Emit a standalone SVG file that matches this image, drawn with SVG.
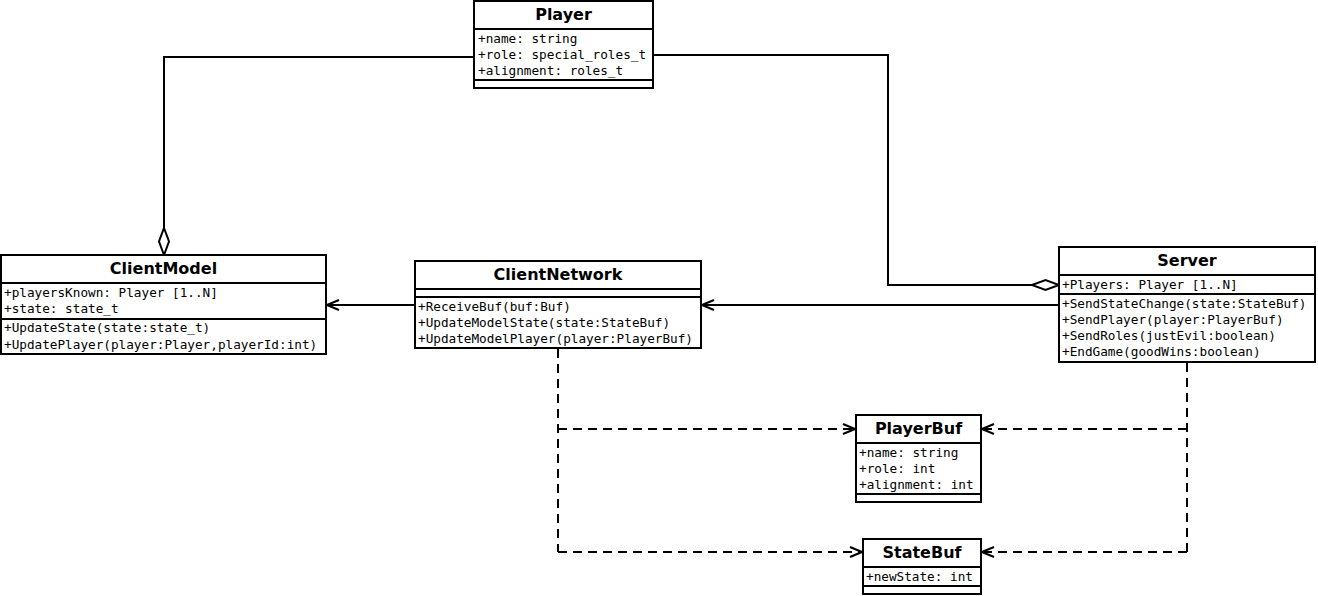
<svg xmlns="http://www.w3.org/2000/svg" width="1318" height="596" viewBox="0 0 1318 596">
<style>
.box{fill:#fff;stroke:#000;stroke-width:2}
.ln{stroke:#000;stroke-width:2;fill:none}
.t{font-family:"DejaVu Sans","Liberation Sans",sans-serif;font-weight:bold;font-size:16px;text-anchor:middle}
.m{font-family:"DejaVu Sans Mono","Liberation Mono",monospace;font-size:12.7px}
.c{stroke:#000;stroke-width:2;fill:none}
.d{stroke-dasharray:9 6}
</style>
<defs>
<marker id="open" markerWidth="14" markerHeight="12" refX="13" refY="6" orient="auto" markerUnits="userSpaceOnUse">
<path d="M1,1 L13,6 L1,11" fill="none" stroke="#000" stroke-width="2"/>
</marker>
</defs>
<rect width="1318" height="596" fill="#fff"/>

<g id="connectors">
<path class="c" d="M474,57 H164 V228"/>
<path d="M164,228 L169,241.5 L164,255 L159,241.5 Z" fill="#fff" stroke="#000" stroke-width="2"/>
<path class="c" d="M653,55 H888 V285 H1032"/>
<path d="M1032,285 L1045.5,280 L1059,285 L1045.5,290 Z" fill="#fff" stroke="#000" stroke-width="2"/>
<path class="c" d="M1059,305 H702" marker-end="url(#open)"/>
<path class="c" d="M415,305 H327" marker-end="url(#open)"/>
<path class="c d" d="M558,349 V552"/>
<path class="c d" d="M558,429 H855" marker-end="url(#open)"/>
<path class="c d" d="M558,552 H862" marker-end="url(#open)"/>
<path class="c d" d="M1187,363 V552"/>
<path class="c d" d="M1187,429 H982" marker-end="url(#open)"/>
<path class="c d" d="M1187,552 H982" marker-end="url(#open)"/>
</g>

<g id="Player">
<rect class="box" x="474" y="1" width="179" height="87"/>
<line class="ln" x1="474" y1="29" x2="653" y2="29"/>
<line class="ln" x1="474" y1="80" x2="653" y2="80"/>
<text class="t" x="563.5" y="20">Player</text>
<text class="m" x="478" y="43">+name: string</text>
<text class="m" x="478" y="59">+role: special_roles_t</text>
<text class="m" x="478" y="75">+alignment: roles_t</text>
</g>

<g id="ClientModel">
<rect class="box" x="1" y="255" width="325" height="99"/>
<line class="ln" x1="1" y1="283" x2="326" y2="283"/>
<line class="ln" x1="1" y1="319" x2="326" y2="319"/>
<text class="t" x="163.5" y="274">ClientModel</text>
<text class="m" x="4" y="297">+playersKnown: Player [1..N]</text>
<text class="m" x="4" y="313">+state: state_t</text>
<text class="m" x="4" y="332">+UpdateState(state:state_t)</text>
<text class="m" x="4" y="349">+UpdatePlayer(player:Player,playerId:int)</text>
</g>

<g id="ClientNetwork">
<rect class="box" x="415" y="261" width="286" height="87"/>
<line class="ln" x1="415" y1="289" x2="701" y2="289"/>
<line class="ln" x1="415" y1="297" x2="701" y2="297"/>
<text class="t" x="558" y="280">ClientNetwork</text>
<text class="m" x="418" y="311">+ReceiveBuf(buf:Buf)</text>
<text class="m" x="418" y="327">+UpdateModelState(state:StateBuf)</text>
<text class="m" x="418" y="343">+UpdateModelPlayer(player:PlayerBuf)</text>
</g>

<g id="Server">
<rect class="box" x="1059" y="247" width="256" height="115"/>
<line class="ln" x1="1059" y1="275" x2="1315" y2="275"/>
<line class="ln" x1="1059" y1="294" x2="1315" y2="294"/>
<text class="t" x="1187" y="266">Server</text>
<text class="m" x="1062" y="289">+Players: Player [1..N]</text>
<text class="m" x="1062" y="308">+SendStateChange(state:StateBuf)</text>
<text class="m" x="1062" y="324">+SendPlayer(player:PlayerBuf)</text>
<text class="m" x="1062" y="340">+SendRoles(justEvil:boolean)</text>
<text class="m" x="1062" y="356">+EndGame(goodWins:boolean)</text>
</g>

<g id="PlayerBuf">
<rect class="box" x="856" y="415" width="125" height="87"/>
<line class="ln" x1="856" y1="443" x2="981" y2="443"/>
<line class="ln" x1="856" y1="494" x2="981" y2="494"/>
<text class="t" x="918.5" y="434">PlayerBuf</text>
<text class="m" x="859" y="457">+name: string</text>
<text class="m" x="859" y="473">+role: int</text>
<text class="m" x="859" y="489">+alignment: int</text>
</g>

<g id="StateBuf">
<rect class="box" x="863" y="539" width="118" height="55"/>
<line class="ln" x1="863" y1="567" x2="981" y2="567"/>
<line class="ln" x1="863" y1="586" x2="981" y2="586"/>
<text class="t" x="922" y="558">StateBuf</text>
<text class="m" x="866" y="581">+newState: int</text>
</g>
</svg>
